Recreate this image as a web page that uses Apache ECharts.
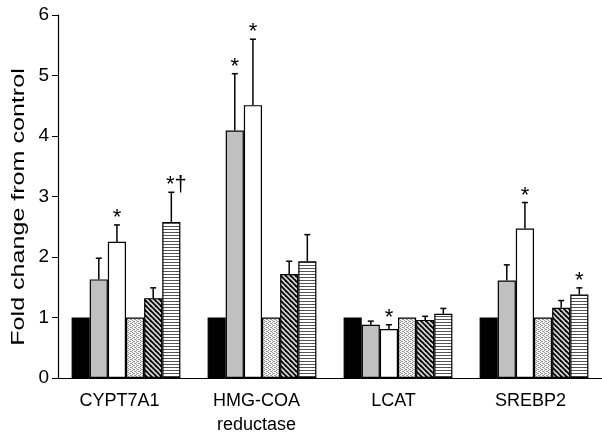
<!DOCTYPE html>
<html><head><meta charset="utf-8">
<script src="https://cdn.jsdelivr.net/npm/echarts@6/dist/echarts.min.js"></script>
<style>html,body{margin:0;padding:0;background:#fff}#c{width:602px;height:437px}</style>
</head><body><div id="c"></div>
<script>
const categories = ['CYPT7A1', 'HMG-COA\nreductase', 'LCAT', 'SREBP2'];
const yTicks = [0, 1, 2, 3, 4, 5, 6];
const yTitle = 'Fold change from control';
const controlA = [1, 1, 1, 1];
const groupB = [1.63, 4.09, 0.88, 1.61];
const groupBErr = [0.35, 0.94, 0.06, 0.26];
const groupC = [2.25, 4.51, 0.81, 2.47];
const groupCErr = [0.28, 1.09, 0.07, 0.43];
const controlD = [1, 1, 1, 1];
const groupE = [1.32, 1.72, 0.96, 1.16];
const groupEErr = [0.17, 0.21, 0.06, 0.12];
const groupF = [2.58, 1.93, 1.06, 1.38];
const groupFErr = [0.49, 0.44, 0.09, 0.11];
const marksB = ['', '*', '', ''];
const marksC = ['*', '*', '*', '*'];
const marksF = ['*\u2020', '', '', '*'];

function makeCanvas(w, h, draw) {
  const c = document.createElement('canvas');
  c.width = w; c.height = h;
  draw(c.getContext('2d'), w, h);
  return c;
}
const dotPat = makeCanvas(4, 4, (g, w, h) => {
  g.fillStyle = '#f2f2f2'; g.fillRect(0, 0, w, h);
  g.fillStyle = '#9a9a9a';
  [[0,0],[2,1],[0,2],[2,3],[1,1],[3,3]].forEach(p => g.fillRect(p[0], p[1], 1, 1));
});
const diagPat = makeCanvas(5, 5, (g, w, h) => {
  g.fillStyle = '#d9d9d9'; g.fillRect(0, 0, w, h);
  g.strokeStyle = '#000'; g.lineWidth = 1.8;
  for (let k = -1; k <= 1; k++) {
    g.beginPath(); g.moveTo(k * w - 1, -1); g.lineTo(k * w + w + 1, h + 1); g.stroke();
  }
});
const horzPat = makeCanvas(4, 3, (g, w, h) => {
  g.fillStyle = '#ffffff'; g.fillRect(0, 0, w, h);
  g.fillStyle = '#555'; g.fillRect(0, 1, w, 1);
});

const FONT = "'Liberation Sans', Arial, sans-serif";
const seriesDefs = [
  { data: controlA, color: '#000000' },
  { data: groupB, err: groupBErr, marks: marksB, color: '#c0c0c0' },
  { data: groupC, err: groupCErr, marks: marksC, color: '#ffffff' },
  { data: controlD, color: { image: dotPat, repeat: 'repeat' } },
  { data: groupE, err: groupEErr, color: { image: diagPat, repeat: 'repeat' } },
  { data: groupF, err: groupFErr, marks: marksF, color: { image: horzPat, repeat: 'repeat' } }
];
const N = seriesDefs.length;
const series = [];
seriesDefs.forEach((s, i) => {
  series.push({
    type: 'bar', data: s.data, barGap: '0%', barCategoryGap: '20%',
    itemStyle: { color: s.color, borderColor: '#000', borderWidth: 1.2 },
    z: 2
  });
});
seriesDefs.forEach((s, i) => {
  if (!s.err) return;
  const d = s.data.map((v, k) => [k, v, s.err[k], (s.marks || [])[k] || '']);
  series.push({
    type: 'custom', z: 5, silent: true,
    data: d,
    renderItem: function (params, api) {
      const k = api.value(0), v = api.value(1), e = api.value(2);
      const mark = d[params.dataIndex][3];
      const catW = api.size([1, 0])[0];
      const bw = catW * 0.8 / N;
      const base = api.coord([k, v]);
      const top = api.coord([k, v + e]);
      const x = base[0] + (i - (N - 1) / 2) * bw;
      const children = [
        { type: 'line', shape: { x1: x, y1: base[1], x2: x, y2: top[1] }, style: { stroke: '#000', lineWidth: 1.5 } },
        { type: 'line', shape: { x1: x - 3, y1: top[1], x2: x + 3, y2: top[1] }, style: { stroke: '#000', lineWidth: 1.5 } }
      ];
      if (mark) {
        children.push({ type: 'text', style: { text: mark, x: x + (mark.length > 1 ? 5 : 0), y: top[1] + 4, align: 'center', verticalAlign: 'bottom', font: '22px ' + FONT, fill: '#000' } });
      }
      return { type: 'group', children: children };
    }
  });
});

const chart = echarts.init(document.getElementById('c'), null, { renderer: 'canvas' });
chart.setOption({
  animation: false,
  grid: [
    { left: 58, right: -4, top: 15, bottom: 59, containLabel: false },
    { left: 51, right: 3, top: 15, bottom: 59, containLabel: false }
  ],
  xAxis: [{
    type: 'category', data: categories, gridIndex: 0,
    axisLine: { lineStyle: { color: '#000', width: 1.2 } },
    axisTick: { inside: true, length: 5, lineStyle: { color: '#000' } },
    axisLabel: { show: false }
  }, {
    type: 'category', data: categories, gridIndex: 1,
    axisLine: { show: false }, axisTick: { show: false },
    axisLabel: { color: '#000', fontSize: 18, fontFamily: FONT, margin: 14, lineHeight: 24 }
  }],
  yAxis: [{
    type: 'value', min: yTicks[0], max: yTicks[yTicks.length - 1], interval: 1, gridIndex: 0,
    axisLine: { show: true, lineStyle: { color: '#000', width: 1.2 } },
    axisTick: { show: true, length: 6, lineStyle: { color: '#000' } },
    splitLine: { show: false },
    axisLabel: { color: '#000', fontSize: 19, fontFamily: FONT, margin: 9 }
  }, {
    type: 'value', min: 0, max: 6, gridIndex: 1, show: false, splitLine: { show: false }
  }],
  graphic: [{
    type: 'text', x: 19, y: 207, rotation: Math.PI / 2, scaleX: 1.32, scaleY: 1,
    style: { text: yTitle, font: '19px ' + FONT, fill: '#000', align: 'center', verticalAlign: 'middle' }
  }],
  series: series
});
</script></body></html>
